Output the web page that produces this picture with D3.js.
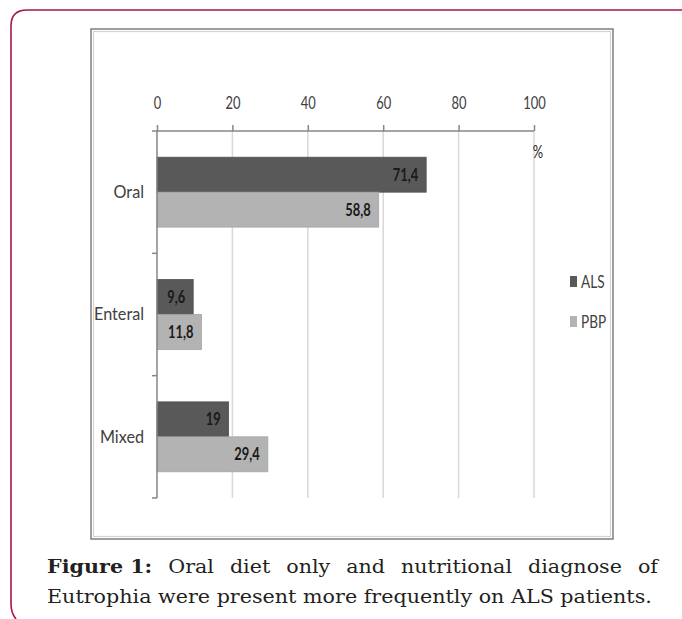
<!DOCTYPE html>
<html>
<head>
<meta charset="utf-8">
<script src="https://cdn.jsdelivr.net/npm/d3@7"></script>
<style>
  html, body { margin: 0; padding: 0; background: #fff; }
  svg { display: block; }
</style>
</head>
<body>
<svg id="chart" width="682" height="619"></svg>
<script>
// Diet type by patient group (%)
const categories = ["Oral", "Enteral", "Mixed"];
const seriesNames = ["ALS", "PBP"];
const alsValues = [71.4, 9.6, 19];
const pbpValues = [58.8, 11.8, 29.4];
const valueLabels = [["71,4", "9,6", "19"], ["58,8", "11,8", "29,4"]];
const xTicks = [0, 20, 40, 60, 80, 100];
const seriesColors = ["#595959", "#b3b3b3"];

const captionBold = "Figure 1:";
const captionLine1 = ["Oral", "diet", "only", "and", "nutritional", "diagnose", "of"];
const captionLine2 = "Eutrophia were present more frequently on ALS patients.";

const svg = d3.select("#chart");
const sans = "Lato, 'Open Sans', 'DejaVu Sans', sans-serif";
const serif = "'DejaVu Serif', 'Liberation Serif', serif";
const fs = 17;

// squeeze a text node horizontally around its own anchor point
function squeeze(k) {
  return sel => sel.each(function () {
    const t = d3.select(this);
    const ax = +t.attr("x") || 0;
    t.attr("transform", `translate(${ax},0) scale(${k},1) translate(${-ax},0)`);
  });
}

// Outer rounded frame
svg.append("path")
  .attr("d", "M682,10 L27,10 Q11,10 11,26 L11,604 Q11,613 16,619")
  .attr("fill", "none")
  .attr("stroke", "#a8164a")
  .attr("stroke-width", 1.6);

// Chart box with its inner light edge
svg.append("rect").attr("x", 91).attr("y", 29).attr("width", 522).attr("height", 510)
  .attr("fill", "#fff").attr("stroke", "#7f7f7f").attr("stroke-width", 1.5);
svg.append("rect").attr("x", 93.5).attr("y", 31.5).attr("width", 517).attr("height", 505)
  .attr("fill", "none").attr("stroke", "#d4d4d4").attr("stroke-width", 1.2);

// Scales
const x = d3.scaleLinear().domain([0, 100]).range([157, 534]);
const y0 = d3.scaleBand().domain(categories).range([131, 498]);
const y1 = d3.scaleBand().domain(seriesNames).range([0, y0.bandwidth()]).paddingOuter(0.75);

// Vertical gridlines
svg.append("g").selectAll("line").data(xTicks.slice(1)).join("line")
  .attr("x1", d => x(d)).attr("x2", d => x(d))
  .attr("y1", 131).attr("y2", 498)
  .attr("stroke", "#d9d9d9").attr("stroke-width", 1.5);

// Bars
const rows = categories.map((c, i) => ({
  cat: c,
  vals: [
    { s: "ALS", v: alsValues[i], label: valueLabels[0][i], color: seriesColors[0] },
    { s: "PBP", v: pbpValues[i], label: valueLabels[1][i], color: seriesColors[1] }
  ]
}));

const groups = svg.append("g").selectAll("g").data(rows).join("g")
  .attr("transform", d => `translate(0,${y0(d.cat)})`);

groups.selectAll("rect").data(d => d.vals).join("rect")
  .attr("x", x(0))
  .attr("y", d => y1(d.s))
  .attr("width", d => x(d.v) - x(0))
  .attr("height", y1.bandwidth())
  .attr("fill", d => d.color)
  .attr("stroke", d => d3.color(d.color).darker(0.25))
  .attr("stroke-width", 0.8);

groups.selectAll("text").data(d => d.vals).join("text")
  .attr("x", d => x(d.v) - 8)
  .attr("y", d => y1(d.s) + y1.bandwidth() / 2)
  .attr("dy", "0.36em")
  .attr("text-anchor", "end")
  .attr("font-family", sans)
  .attr("font-weight", "bold")
  .attr("font-size", fs)
  .attr("fill", "#1a1a1a")
  .text(d => d.label)
  .call(squeeze(0.76));

// Top value axis
const xAxis = svg.append("g").attr("transform", "translate(0,131)")
  .call(d3.axisTop(x).tickValues(xTicks).tickSize(6).tickPadding(16).tickFormat(d3.format("d")));
xAxis.select(".domain").attr("d", `M152,0H${x(100)}`).attr("stroke", "#868686").attr("stroke-width", 1.5);
xAxis.selectAll(".tick line").attr("stroke", "#868686").attr("stroke-width", 1.5);
xAxis.selectAll(".tick text")
  .attr("font-family", sans).attr("font-size", fs).attr("fill", "#404040")
  .call(squeeze(0.76));

// Category axis
const yAxis = svg.append("g").attr("transform", `translate(${x(0)},0)`)
  .call(d3.axisLeft(y0).tickSize(0).tickPadding(13));
yAxis.select(".domain").attr("stroke", "#868686").attr("stroke-width", 1.5)
  .attr("d", `M0,131V498`);
yAxis.selectAll(".tick text")
  .attr("font-family", sans).attr("font-size", fs + 1).attr("fill", "#404040")
  .call(squeeze(0.9));

// Boundary ticks between categories
const bounds = categories.map(c => y0(c) + y0.bandwidth());
svg.append("g").selectAll("line").data(bounds).join("line")
  .attr("x1", x(0) - 5).attr("x2", x(0))
  .attr("y1", d => d).attr("y2", d => d)
  .attr("stroke", "#868686").attr("stroke-width", 1.5);

// Unit label
svg.append("text").attr("x", x(100) + 4).attr("y", 158)
  .attr("text-anchor", "middle")
  .attr("font-family", sans).attr("font-size", fs).attr("fill", "#262626")
  .text("%")
  .call(squeeze(0.76));

// Legend
const legend = svg.append("g").selectAll("g").data(seriesNames).join("g")
  .attr("transform", (d, i) => `translate(570,${276 + i * 40})`);
legend.append("rect").attr("x", 0).attr("y", 0).attr("width", 7).attr("height", 11)
  .attr("fill", (d, i) => seriesColors[i]);
legend.append("text").attr("x", 11).attr("y", 6).attr("dy", "0.36em")
  .attr("font-family", sans).attr("font-size", fs).attr("fill", "#404040")
  .text(d => d)
  .call(squeeze(0.8));

// Caption
const capLeft = 47, capRight = 658, line2Width = 605, capSize = 18;
const capColor = "#231f20";

// second line: natural spacing, scaled to the text column
const l2 = svg.append("text")
  .attr("x", 0).attr("y", 0)
  .attr("font-family", serif).attr("font-size", capSize).attr("fill", capColor)
  .text(captionLine2);
const sx = line2Width / l2.node().getComputedTextLength();
l2.attr("transform", `translate(${capLeft},603) scale(${sx},1)`);

// first line: words justified between the margins
const line1 = svg.append("g").attr("font-family", serif).attr("font-size", capSize).attr("fill", capColor);
const words = [{ t: captionBold, bold: true }].concat(captionLine1.map(t => ({ t, bold: false })));
const nodes = words.map(w => line1.append("text")
  .attr("x", 0).attr("y", 0)
  .attr("font-weight", w.bold ? "bold" : "normal")
  .text(w.t));
const widths = nodes.map(n => n.node().getComputedTextLength() * sx);
const gap = (capRight - capLeft - d3.sum(widths)) / (nodes.length - 1);
let cx = capLeft;
nodes.forEach((n, i) => {
  n.attr("transform", `translate(${cx},573) scale(${sx},1)`);
  cx += widths[i] + gap;
});
</script>
</body>
</html>
